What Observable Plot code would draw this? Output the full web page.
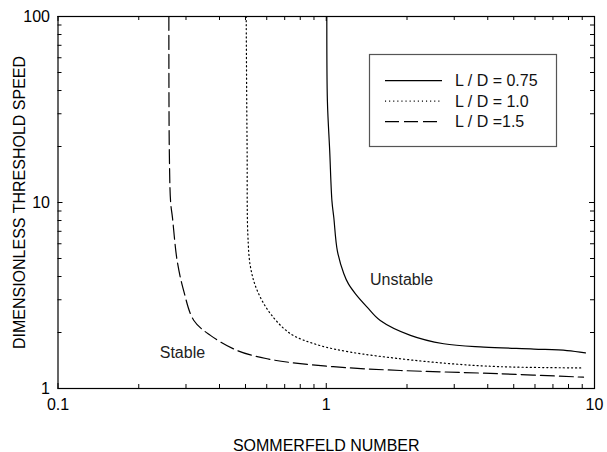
<!DOCTYPE html>
<html>
<head>
<meta charset="utf-8">
<script src="https://cdn.jsdelivr.net/npm/d3@7"></script>
<script src="https://cdn.jsdelivr.net/npm/@observablehq/plot@0.6"></script>
<style>
  html, body { margin: 0; padding: 0; background: white; }
  svg { display: block; }
</style>
</head>
<body>
<div id="chart"></div>
<script>
// ---- data ----
const seriesNames = ["L / D = 0.75", "L / D = 1.0", "L / D =1.5"];

const ld075_x = [1.005, 1.01, 1.03, 1.05, 1.067, 1.10, 1.163, 1.21, 1.285, 1.42, 1.59, 2.06, 2.74, 3.87, 5.94, 7.9, 9.25];
const ld075_y = [100, 35, 19, 10.2, 8.3, 5.5, 4.14, 3.65, 3.23, 2.74, 2.32, 1.93, 1.74, 1.67, 1.63, 1.60, 1.555];

const ld10_x = [0.503, 0.505, 0.507, 0.51, 0.522, 0.553, 0.62, 0.736, 0.925, 1.23, 1.89, 2.9, 4.46, 9.1];
const ld10_y = [100, 40, 19, 6.8, 4.49, 3.36, 2.52, 1.97, 1.72, 1.57, 1.445, 1.36, 1.31, 1.29];

const ld15_x = [0.259, 0.26, 0.263, 0.267, 0.278, 0.294, 0.321, 0.37, 0.466, 0.602, 0.80, 1.23, 1.89, 4.46, 9.1];
const ld15_y = [100, 19, 10, 8.34, 4.88, 3.36, 2.32, 1.93, 1.60, 1.445, 1.36, 1.29, 1.25, 1.20, 1.15];

const xMajor = [0.1, 1, 10];
const xMinor = [0.2, 0.3, 0.4, 0.5, 0.6, 0.7, 0.8, 0.9, 2, 3, 4, 5, 6, 7, 8, 9];
const yMajor = [1, 10, 100];
const yMinor = [2, 3, 4, 5, 6, 7, 8, 9, 20, 30, 40, 50, 60, 70, 80, 90];

const regionLabels = ["Stable", "Unstable"];
const regionX = [0.291, 1.91];
const regionY = [1.56, 3.855];

const xLabel = "SOMMERFELD NUMBER";
const yLabel = "DIMENSIONLESS THRESHOLD SPEED";

// ---- build tables ----
const toRows = (xs, ys) => xs.map((x, i) => ({x, y: ys[i]}));
const s075 = toRows(ld075_x, ld075_y);
const s10 = toRows(ld10_x, ld10_y);
const s15 = toRows(ld15_x, ld15_y);
const regions = regionLabels.map((t, i) => ({t, x: regionX[i], y: regionY[i]}));

const styles = [
  {strokeDasharray: null, strokeWidth: 1.2},
  {strokeDasharray: "1.1,3", strokeWidth: 1.2},
  {strokeDasharray: "14,5", strokeWidth: 1.2}
];

const FONT = "'Liberation Sans', Arial, Helvetica, sans-serif";

const W = 607, H = 452, ML = 57.5, MR = 13, MT = 16, MB = 64;
const innerW = W - ML - MR, innerH = H - MT - MB;

// inward ticks on all four sides: rules spanning the frame, inset down to a short length
const inwardTicks = (len, xs, ys) => [
  Plot.ruleX(xs, {x: d => d, insetTop: innerH - len, stroke: "black", strokeWidth: 1}),
  Plot.ruleX(xs, {x: d => d, insetBottom: innerH - len, stroke: "black", strokeWidth: 1}),
  Plot.ruleY(ys, {y: d => d, insetRight: innerW - len, stroke: "black", strokeWidth: 1}),
  Plot.ruleY(ys, {y: d => d, insetLeft: innerW - len, stroke: "black", strokeWidth: 1})
];

const plot = Plot.plot({
  width: W,
  height: H,
  marginLeft: ML,
  marginRight: MR,
  marginTop: MT,
  marginBottom: MB,
  style: {fontFamily: FONT, fontSize: "16px", color: "black", background: "white"},
  x: {type: "log", domain: [0.1, 10], axis: null},
  y: {type: "log", domain: [1, 100], axis: null},
  marks: [
    Plot.lineY(s075, {x: "x", y: "y", stroke: "black", strokeWidth: styles[0].strokeWidth, curve: "catmull-rom"}),
    Plot.lineY(s10, {x: "x", y: "y", stroke: "black", strokeWidth: styles[1].strokeWidth, strokeDasharray: styles[1].strokeDasharray, curve: "catmull-rom"}),
    Plot.lineY(s15, {x: "x", y: "y", stroke: "black", strokeWidth: styles[2].strokeWidth, strokeDasharray: styles[2].strokeDasharray, curve: "catmull-rom"}),
    Plot.text(regions, {x: "x", y: "y", text: "t", fontSize: 16, fill: "#222"}),
    ...inwardTicks(5, xMajor, yMajor),
    ...inwardTicks(4, xMinor, yMinor),
    Plot.axisX(xMajor, {anchor: "bottom", tickSize: 0, tickPadding: 10, tickFormat: d => String(d),
      label: xLabel, labelAnchor: "center", labelOffset: 62, labelArrow: "none"}),
    Plot.axisY(yMajor, {anchor: "left", tickSize: 0, tickPadding: 8, tickFormat: d => String(d),
      label: yLabel, labelAnchor: "center", labelOffset: 44.5, labelArrow: "none"}),
    Plot.frame({stroke: "black", strokeWidth: 1.2})
  ]
});

// ---- legend (inside the plot area, top-right) ----
const svg = d3.select(plot);
const lg = svg.append("g").attr("font-family", FONT).attr("font-size", 16).attr("text-anchor", "start");
lg.append("rect").attr("x", 369.5).attr("y", 54.5).attr("width", 187).attr("height", 92)
  .attr("fill", "white").attr("stroke", "#555").attr("stroke-width", 1.2);
seriesNames.forEach((name, i) => {
  const y = 80.7 + i * 20.5;
  const ln = lg.append("line").attr("x1", 385).attr("x2", 442).attr("y1", y).attr("y2", y)
    .attr("stroke", "black").attr("stroke-width", styles[i].strokeWidth);
  if (styles[i].strokeDasharray) ln.attr("stroke-dasharray", styles[i].strokeDasharray);
  lg.append("text").attr("x", 455).attr("y", y).attr("dy", "0.35em").attr("fill", "#111")
    .attr("text-anchor", "start").text(name);
});

document.getElementById("chart").appendChild(plot);
</script>
</body>
</html>
